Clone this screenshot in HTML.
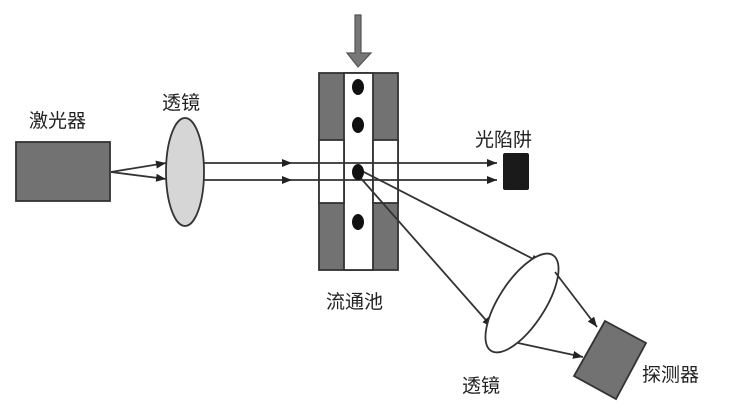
<!DOCTYPE html>
<html><head><meta charset="utf-8"><style>
html,body{margin:0;padding:0;background:#fff;width:730px;height:416px;overflow:hidden}
text{font-family:"Liberation Sans","Noto Sans CJK SC",sans-serif;font-size:19px;fill:#222}
</style></head><body>
<svg width="730" height="416" viewBox="0 0 730 416">
<defs>
<marker id="a" markerWidth="10" markerHeight="8" refX="10" refY="4" orient="auto" markerUnits="userSpaceOnUse">
<path d="M0,0 L10,4 L0,8 Z" fill="#222"/></marker>
</defs>
<g stroke="#333" stroke-width="1.8" fill="none">
<rect x="16" y="142" width="94" height="59" fill="#727272"/>
<line x1="111" y1="172" x2="166" y2="163" marker-end="url(#a)"/>
<line x1="111" y1="172" x2="166" y2="179" marker-end="url(#a)"/>
<ellipse cx="185" cy="172" rx="19" ry="54" fill="#d6d6d6"/>
<rect x="319" y="73" width="79" height="197" fill="#727272"/>
<rect x="344" y="73" width="29" height="197" fill="#fff"/>
<rect x="319" y="140" width="25" height="63" fill="#fff"/>
<rect x="373" y="140" width="25" height="63" fill="#fff"/>
<line x1="204" y1="163" x2="292" y2="163" marker-end="url(#a)"/>
<line x1="204" y1="180" x2="292" y2="180" marker-end="url(#a)"/>
<line x1="292" y1="163" x2="497" y2="163" marker-end="url(#a)"/>
<line x1="292" y1="180" x2="497" y2="180" marker-end="url(#a)"/>
<line x1="360" y1="170" x2="541" y2="263" marker-end="url(#a)"/>
<line x1="358" y1="175" x2="492" y2="327" marker-end="url(#a)"/>
<ellipse cx="522" cy="303" rx="57" ry="23" transform="rotate(-57 522 303)" fill="#fff"/>
<line x1="555" y1="272" x2="597" y2="327" marker-end="url(#a)"/>
<line x1="518" y1="343" x2="583" y2="357" marker-end="url(#a)"/>
<polygon points="605,321 646,343 616,399 574,376" fill="#727272"/>
</g>
<g fill="#111">
<ellipse cx="358" cy="87" rx="6" ry="8"/>
<ellipse cx="358" cy="125" rx="6" ry="8"/>
<ellipse cx="358" cy="172" rx="6" ry="8"/>
<ellipse cx="358" cy="222" rx="6" ry="8"/>
</g>
<rect x="503" y="153" width="26" height="37" rx="2" fill="#1a1a1a"/>
<path d="M355,15 H361 V53 H371 L358,67 L347,53 H355 Z" fill="#777" stroke="#555" stroke-width="1.2"/>
<text x="29" y="127">激光器</text>
<text x="162" y="109">透镜</text>
<text x="475" y="146">光陷阱</text>
<text x="326" y="308">流通池</text>
<text x="462" y="392">透镜</text>
<text x="642" y="381">探测器</text>
</svg>
</body></html>
